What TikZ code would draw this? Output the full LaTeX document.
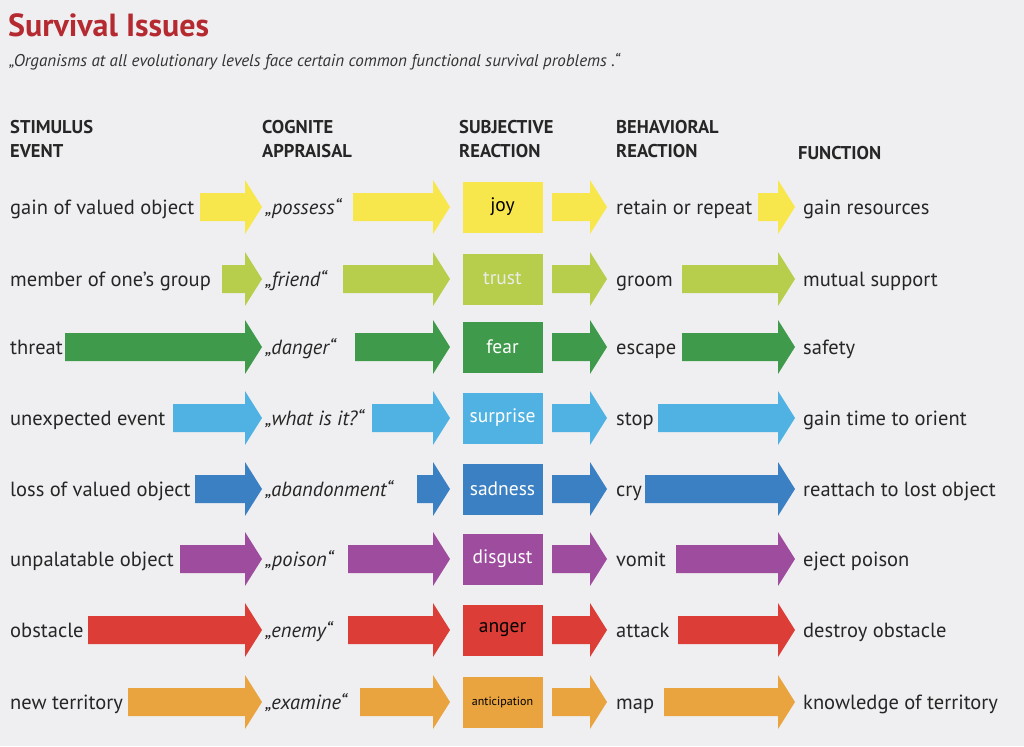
\documentclass[tikz,border=0pt]{standalone}
\usepackage{fontspec}
\setmainfont{PT Sans}
\begin{document}
\begin{tikzpicture}[x=1pt,y=-1pt,
 lab/.style={anchor=base west,inner sep=0pt,font=\fontsize{20.5}{21}\selectfont,text=black!85},
 hdr/.style={anchor=north west,inner sep=0pt,align=left,font=\fontsize{18.5}{24}\selectfont\bfseries,text=black!85},
 emo/.style={minimum width=80pt,minimum height=51pt,inner sep=0pt,font=\fontsize{19.5}{20}\selectfont}]
\definecolor{bg}{HTML}{EFEFF1}
\definecolor{cY}{HTML}{F8E74C}\definecolor{cLG}{HTML}{B6CE4B}\definecolor{cG}{HTML}{3F9B4B}
\definecolor{cLB}{HTML}{4FB2E3}\definecolor{cB}{HTML}{3A80C2}\definecolor{cP}{HTML}{9E4C9E}
\definecolor{cR}{HTML}{DC3D36}\definecolor{cO}{HTML}{E9A43F}\definecolor{ttl}{HTML}{B52A30}
\fill[bg] (0,0) rectangle (1024,746);
\useasboundingbox (0,0) rectangle (1024,746);
\node[anchor=west,inner sep=0pt,font=\fontsize{32}{32}\selectfont\bfseries,text=ttl] (title) at (8,25) {Survival Issues};
\node[anchor=west,inner sep=0pt,font=\fontsize{17}{18}\selectfont\itshape,text=black!80] (sub) at (9,62) {„Organisms at all evolutionary levels face certain common functional survival problems .“};
\node[hdr] (h1) at (10,120) {STIMULUS\\EVENT};
\node[hdr] (h2) at (262,120) {COGNITE\\APPRAISAL};
\node[hdr] (h3) at (459,120) {SUBJECTIVE\\REACTION};
\node[hdr] (h4) at (616,120) {BEHAVIORAL\\REACTION};
\node[hdr] (h5) at (798,146) {FUNCTION};
\newcommand{\arr}[4]{\fill[#1] (#2,#4-14) -- (#3-17,#4-14) -- (#3-17,#4-27) -- (#3,#4) -- (#3-17,#4+27) -- (#3-17,#4+14) -- (#2,#4+14) -- cycle;}
\newcommand{\row}[9]{%
 \node[lab] (s#1) at (10,#2+7) {#3};
 \node[lab,font=\fontsize{20.5}{21}\selectfont\itshape] (c#1) at (265,#2+7) {#4};
 \node[emo,fill=#9] (e#1) at (502.5,#2) {#5};
 \node[lab] (b#1) at (616,#2+7) {#6};
 \node[lab] (f#1) at (803,#2+7) {#7};
 \arr{#9}{#8}{262}{#2}}
\row{1}{207}{gain of valued object}{„possess“}{joy}{retain or repeat}{gain resources}{200}{cY}
\arr{cY}{353}{450}{207}\arr{cY}{552}{607}{207}\arr{cY}{758}{795}{207}
\row{2}{279}{member of one’s group}{„friend“}{\color{white!92!black}trust}{groom}{mutual support}{222}{cLG}
\arr{cLG}{343}{450}{279}\arr{cLG}{552}{607}{279}\arr{cLG}{682}{795}{279}
\row{3}{347}{threat}{„danger“}{\color{white}fear}{escape}{safety}{65}{cG}
\arr{cG}{355}{450}{347}\arr{cG}{552}{607}{347}\arr{cG}{682}{795}{347}
\row{4}{418}{unexpected event}{„what is it?“}{\color{white}surprise}{stop}{gain time to orient}{173}{cLB}
\arr{cLB}{372}{450}{418}\arr{cLB}{552}{607}{418}\arr{cLB}{658}{795}{418}
\row{5}{489}{loss of valued object}{„abandonment“}{\color{white}sadness}{cry}{reattach to lost object}{195}{cB}
\arr{cB}{417}{450}{489}\arr{cB}{552}{607}{489}\arr{cB}{645}{795}{489}
\row{6}{559}{unpalatable object}{„poison“}{\color{white}disgust}{vomit}{eject poison}{180}{cP}
\arr{cP}{348}{450}{559}\arr{cP}{552}{607}{559}\arr{cP}{676}{795}{559}
\row{7}{630}{obstacle}{„enemy“}{anger}{attack}{destroy obstacle}{88}{cR}
\arr{cR}{348}{450}{630}\arr{cR}{552}{607}{630}\arr{cR}{678}{795}{630}
\row{8}{702}{new territory}{„examine“}{\fontsize{12}{12}\selectfont anticipation}{map}{knowledge of territory}{128}{cO}
\arr{cO}{360}{450}{702}\arr{cO}{552}{607}{702}\arr{cO}{664}{795}{702}
\end{tikzpicture}
\end{document}
